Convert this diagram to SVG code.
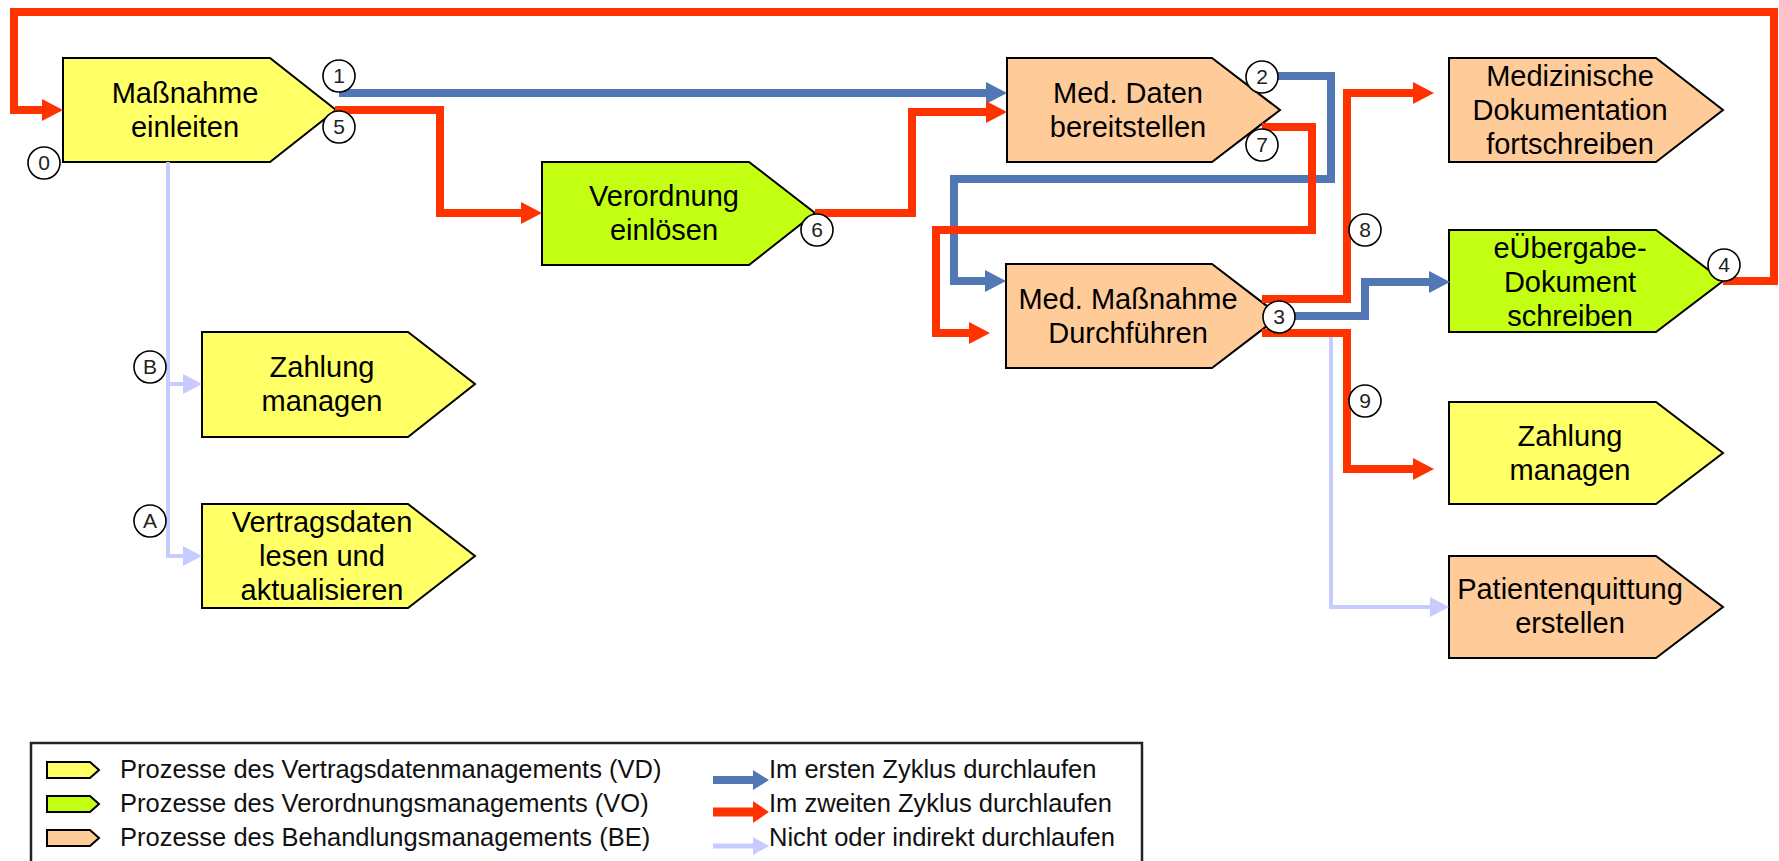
<svg xmlns="http://www.w3.org/2000/svg" width="1779" height="861" viewBox="0 0 1779 861">
  <defs>
    <style>
      .node polygon { stroke: #000; stroke-width: 2; stroke-linejoin: miter; }
      .vd polygon { fill: #FFFF66; }
      .vo polygon { fill: #C2FF12; }
      .be polygon { fill: #FFCC99; }
      .label { font-family: "Liberation Sans", Arial, sans-serif; font-size: 29px; fill: #000; text-anchor: middle; }
      .flow { fill: none; stroke-linejoin: miter; stroke-linecap: butt; }
      .first { stroke: #5177B5; stroke-width: 8; }
      .second { stroke: #FF3300; stroke-width: 8; }
      .indirect { stroke: #C7CCFF; stroke-width: 4; }
      .step circle { fill: #fff; stroke: #000; stroke-width: 1.6; }
      .step text { font-family: "Liberation Sans", Arial, sans-serif; font-size: 21px; fill: #222; text-anchor: middle; }
      .legend-text { font-family: "Liberation Sans", Arial, sans-serif; font-size: 25.5px; fill: #111; }
    </style>
    <marker id="ah-first" markerUnits="userSpaceOnUse" markerWidth="21" markerHeight="22" viewBox="0 0 21 22" refX="0" refY="11" orient="auto">
      <path d="M0,0 L21,11 L0,22 z" fill="#5177B5"/>
    </marker>
    <marker id="ah-second" markerUnits="userSpaceOnUse" markerWidth="21" markerHeight="22" viewBox="0 0 21 22" refX="0" refY="11" orient="auto">
      <path d="M0,0 L21,11 L0,22 z" fill="#FF3300"/>
    </marker>
    <marker id="ah-indirect" markerUnits="userSpaceOnUse" markerWidth="19" markerHeight="20" viewBox="0 0 19 20" refX="0" refY="10" orient="auto">
      <path d="M0,0 L19,10 L0,20 z" fill="#C7CCFF"/>
    </marker>
  </defs>

  <rect x="0" y="0" width="1779" height="861" fill="#fff"/>

  <!-- process nodes: pentagon arrows, 273 wide, 104 high -->
  <g id="massnahme-einleiten" class="node vd">
    <polygon points="63,58 270,58 336,110 270,162 63,162"/>
    <text class="label"><tspan x="185" y="103">Maßnahme</tspan><tspan x="185" y="137">einleiten</tspan></text>
  </g>
  <g id="verordnung-einloesen" class="node vo">
    <polygon points="542,162 749,162 815,213 749,265 542,265"/>
    <text class="label"><tspan x="664" y="206">Verordnung</tspan><tspan x="664" y="240">einlösen</tspan></text>
  </g>
  <g id="med-daten-bereitstellen" class="node be">
    <polygon points="1007,58 1212,58 1280,110 1212,162 1007,162"/>
    <text class="label"><tspan x="1128" y="103">Med. Daten</tspan><tspan x="1128" y="137">bereitstellen</tspan></text>
  </g>
  <g id="med-massnahme-durchfuehren" class="node be">
    <polygon points="1006,264 1212,264 1280,316 1212,368 1006,368"/>
    <text class="label"><tspan x="1128" y="309">Med. Maßnahme</tspan><tspan x="1128" y="343">Durchführen</tspan></text>
  </g>
  <g id="med-dokumentation" class="node be">
    <polygon points="1449,58 1656,58 1723,110 1656,162 1449,162"/>
    <text class="label"><tspan x="1570" y="86">Medizinische</tspan><tspan x="1570" y="120">Dokumentation</tspan><tspan x="1570" y="154">fortschreiben</tspan></text>
  </g>
  <g id="euebergabe-dokument" class="node vo">
    <polygon points="1449,230 1656,230 1723,281 1656,332 1449,332"/>
    <text class="label"><tspan x="1570" y="258">eÜbergabe-</tspan><tspan x="1570" y="292">Dokument</tspan><tspan x="1570" y="326">schreiben</tspan></text>
  </g>
  <g id="zahlung-managen-be" class="node vd">
    <polygon points="1449,402 1656,402 1723,453 1656,504 1449,504"/>
    <text class="label"><tspan x="1570" y="446">Zahlung</tspan><tspan x="1570" y="480">managen</tspan></text>
  </g>
  <g id="patientenquittung" class="node be">
    <polygon points="1449,556 1656,556 1723,607 1656,658 1449,658"/>
    <text class="label"><tspan x="1570" y="599">Patientenquittung</tspan><tspan x="1570" y="633">erstellen</tspan></text>
  </g>
  <g id="zahlung-managen-vd" class="node vd">
    <polygon points="202,332 408,332 475,384 408,437 202,437"/>
    <text class="label"><tspan x="322" y="377">Zahlung</tspan><tspan x="322" y="411">managen</tspan></text>
  </g>
  <g id="vertragsdaten" class="node vd">
    <polygon points="202,504 408,504 475,556 408,608 202,608"/>
    <text class="label"><tspan x="322" y="532">Vertragsdaten</tspan><tspan x="322" y="566">lesen und</tspan><tspan x="322" y="600">aktualisieren</tspan></text>
  </g>

  <!-- connectors -->
  <g id="connectors">
    <!-- not or indirectly passed -->
    <path class="flow indirect" d="M168,162 V556 H183" marker-end="url(#ah-indirect)"/>
    <path class="flow indirect" d="M168,384 H183" marker-end="url(#ah-indirect)"/>
    <path class="flow indirect" d="M1331,333 V607 H1430" marker-end="url(#ah-indirect)"/>
    <!-- first cycle -->
    <path class="flow first" d="M339,93 H986" marker-end="url(#ah-first)"/>
    <path class="flow first" d="M1276,76 H1331 V179 H954 V281 H985" marker-end="url(#ah-first)"/>
    <path class="flow first" d="M1295,316 H1365 V282 H1429" marker-end="url(#ah-first)"/>
    <!-- second cycle -->
    <path class="flow second" d="M1723,281 H1774 V12 H14 V110 H42" marker-end="url(#ah-second)"/>
    <path class="flow second" d="M335,110 H440 V213 H521" marker-end="url(#ah-second)"/>
    <path class="flow second" d="M815,213 H912 V112 H986" marker-end="url(#ah-second)"/>
    <path class="flow second" d="M1262,127 H1312 V230 H936 V333 H969" marker-end="url(#ah-second)"/>
    <path class="flow second" d="M1262,299 H1347 V93 H1413" marker-end="url(#ah-second)"/>
    <path class="flow second" d="M1262,333 H1347 V469 H1413" marker-end="url(#ah-second)"/>
  </g>

  <!-- step markers -->
  <g id="steps">
    <g class="step"><circle cx="44" cy="163" r="16"/><text x="44" y="170">0</text></g>
    <g class="step"><circle cx="339" cy="76" r="16"/><text x="339" y="83">1</text></g>
    <g class="step"><circle cx="339" cy="127" r="16"/><text x="339" y="134">5</text></g>
    <g class="step"><circle cx="817" cy="230" r="16"/><text x="817" y="237">6</text></g>
    <g class="step"><circle cx="1262" cy="77" r="16"/><text x="1262" y="84">2</text></g>
    <g class="step"><circle cx="1262" cy="145" r="16"/><text x="1262" y="152">7</text></g>
    <g class="step"><circle cx="1279" cy="317" r="16"/><text x="1279" y="324">3</text></g>
    <g class="step"><circle cx="1365" cy="230" r="16"/><text x="1365" y="237">8</text></g>
    <g class="step"><circle cx="1365" cy="401" r="16"/><text x="1365" y="408">9</text></g>
    <g class="step"><circle cx="1724" cy="265" r="16"/><text x="1724" y="272">4</text></g>
    <g class="step"><circle cx="150" cy="367" r="16"/><text x="150" y="374">B</text></g>
    <g class="step"><circle cx="150" cy="521" r="16"/><text x="150" y="528">A</text></g>
  </g>

  <!-- legend -->
  <g id="legend">
    <rect x="31" y="743" width="1111" height="140" fill="#fff" stroke="#222" stroke-width="2.5"/>
    <g class="node vd"><polygon points="47,762 90,762 99,770 90,778 47,778"/></g>
    <g class="node vo"><polygon points="47,796 90,796 99,804 90,812 47,812"/></g>
    <g class="node be"><polygon points="47,830 90,830 99,838 90,846 47,846"/></g>
    <text class="legend-text" x="120" y="778">Prozesse des Vertragsdatenmanagements (VD)</text>
    <text class="legend-text" x="120" y="812">Prozesse des Verordnungsmanagements (VO)</text>
    <text class="legend-text" x="120" y="846">Prozesse des Behandlungsmanagements (BE)</text>
    <path d="M713,780 H754" stroke="#5177B5" stroke-width="8" fill="none"/>
    <path d="M753,770 L769,780 L753,790 z" fill="#5177B5"/>
    <path d="M713,812 H754" stroke="#FF3300" stroke-width="9" fill="none"/>
    <path d="M753,801 L769,812 L753,823 z" fill="#FF3300"/>
    <path d="M713,846 H754" stroke="#C7CCFF" stroke-width="5" fill="none"/>
    <path d="M753,837 L769,846 L753,855 z" fill="#C7CCFF"/>
    <text class="legend-text" x="769" y="778">Im ersten Zyklus durchlaufen</text>
    <text class="legend-text" x="769" y="812">Im zweiten Zyklus durchlaufen</text>
    <text class="legend-text" x="769" y="846">Nicht oder indirekt durchlaufen</text>
  </g>
</svg>
